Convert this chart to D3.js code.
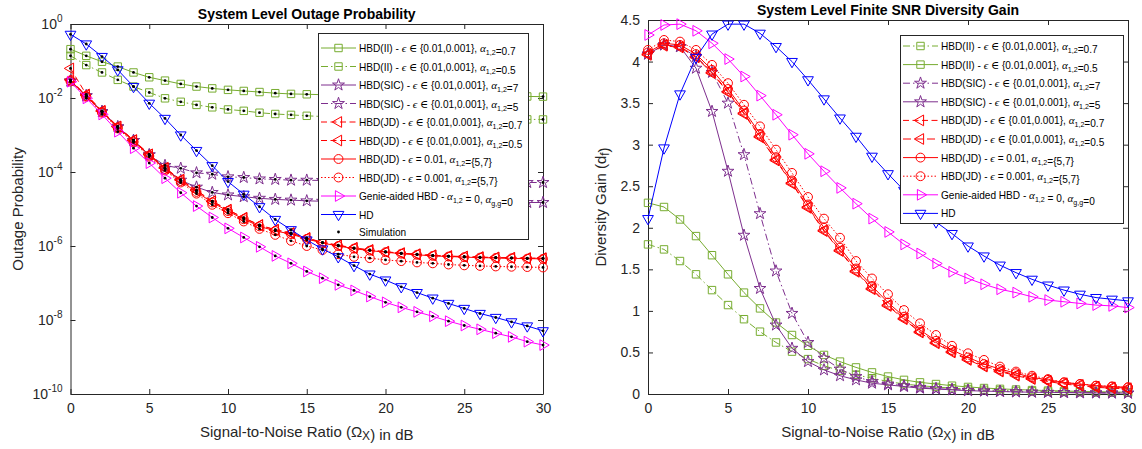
<!DOCTYPE html>
<html>
<head>
<meta charset="utf-8">
<script src="https://cdn.jsdelivr.net/npm/d3@7"></script>
<style>
body { margin: 0; background: #fff; }
svg { display: block; font-family: "Liberation Sans", Arial, sans-serif; }
</style>
</head>
<body>
<script>
// SNR grid in dB (both panels)
var snr = [0,1,2,3,4,5,6,7,8,9,10,11,12,13,14,15,16,17,18,19,20,21,22,23,24,25,26,27,28,29,30];

// ---- left panel: outage probability ----
var outII07 = [0.209,0.138,0.0955,0.0708,0.049,0.0363,0.0295,0.024,0.0204,0.0182,0.0166,0.0155,0.0145,0.0135,0.0129,0.0126,0.0123,0.012,0.0119,0.0117,0.0116,0.0115,0.0114,0.0113,0.0112,0.0112,0.0111,0.011,0.011,0.011,0.0109];
var outII05 = [0.138,0.0776,0.049,0.0309,0.0204,0.0141,9.8e-3,7.9e-3,6.5e-3,5.6e-3,4.9e-3,4.5e-3,4.0e-3,3.7e-3,3.5e-3,3.3e-3,3.16e-3,3.1e-3,3.0e-3,2.95e-3,2.9e-3,2.85e-3,2.82e-3,2.79e-3,2.75e-3,2.72e-3,2.69e-3,2.67e-3,2.65e-3,2.64e-3,2.63e-3];
var outSIC7 = [0.0288,0.0115,4.3e-3,1.66e-3,7.1e-4,2.9e-4,1.26e-4,6.0e-5,3.9e-5,2.8e-5,2.4e-5,2.15e-5,1.95e-5,1.82e-5,1.74e-5,1.66e-5,1.62e-5,1.6e-5,1.58e-5,1.57e-5,1.56e-5,1.55e-5,1.54e-5,1.53e-5,1.53e-5,1.52e-5,1.52e-5,1.51e-5,1.51e-5,1.5e-5,1.5e-5];
var outSIC5 = [0.0288,0.0115,4.3e-3,1.66e-3,7.1e-4,2.9e-4,1.5e-4,1.26e-4,9.5e-5,8.7e-5,7.4e-5,7.1e-5,6.5e-5,6.3e-5,6.0e-5,6.0e-5,5.9e-5,5.8e-5,5.7e-5,5.6e-5,5.55e-5,5.5e-5,5.45e-5,5.4e-5,5.35e-5,5.3e-5,5.3e-5,5.25e-5,5.25e-5,5.2e-5,5.2e-5];
var outJD07 = [0.063,0.0125,4.5e-3,1.7e-3,7.3e-4,3.0e-4,1.3e-4,6.2e-5,3.2e-5,1.62e-5,9.6e-6,5.8e-6,3.7e-6,2.75e-6,2.25e-6,1.65e-6,1.26e-6,1.05e-6,8.9e-7,7.8e-7,7.0e-7,6.4e-7,6.0e-7,5.6e-7,5.35e-7,5.2e-7,5.0e-7,4.9e-7,4.8e-7,4.7e-7,4.7e-7];
var outJD05 = [0.031,0.0118,4.4e-3,1.68e-3,7.2e-4,2.95e-4,1.28e-4,6.1e-5,3.15e-5,1.6e-5,9.4e-6,5.7e-6,3.65e-6,2.72e-6,2.2e-6,1.63e-6,1.24e-6,1.03e-6,8.8e-7,7.7e-7,6.9e-7,6.35e-7,5.9e-7,5.55e-7,5.3e-7,5.1e-7,4.95e-7,4.85e-7,4.75e-7,4.65e-7,4.6e-7];
var outJDe01 = [0.03,0.0112,4.2e-3,1.6e-3,6.8e-4,2.8e-4,1.2e-4,5.7e-5,2.9e-5,1.5e-5,8.8e-6,5.3e-6,3.4e-6,2.55e-6,2.1e-6,1.55e-6,1.2e-6,1.0e-6,8.5e-7,7.5e-7,6.8e-7,6.2e-7,5.8e-7,5.4e-7,5.2e-7,5.0e-7,4.85e-7,4.75e-7,4.65e-7,4.55e-7,4.5e-7];
var outJDe001 = [0.028,0.0108,4.0e-3,1.5e-3,6.3e-4,2.6e-4,1.1e-4,5.2e-5,2.6e-5,1.3e-5,7.7e-6,4.6e-6,2.9e-6,2.0e-6,1.38e-6,1.0e-6,7.8e-7,6.0e-7,5.1e-7,4.7e-7,4.2e-7,3.9e-7,3.6e-7,3.4e-7,3.16e-7,3.0e-7,2.9e-7,2.8e-7,2.75e-7,2.7e-7,2.63e-7];
var outGenie = [0.0275,9.8e-3,3.6e-3,1.23e-3,4.4e-4,1.74e-4,6.8e-5,2.75e-5,1.2e-5,5.9e-6,3.0e-6,1.7e-6,9.5e-7,5.4e-7,3.4e-7,2.05e-7,1.35e-7,8.9e-8,6.3e-8,4.3e-8,3.0e-8,2.2e-8,1.66e-8,1.26e-8,9.3e-9,7.1e-9,5.6e-9,4.4e-9,3.5e-9,2.6e-9,2.1e-9];
var outHD = [0.525,0.288,0.132,0.0575,0.0204,7.2e-3,2.8e-3,1.0e-3,3.8e-4,1.48e-4,5.5e-5,2.5e-5,1.15e-5,5.2e-6,2.75e-6,1.45e-6,8.3e-7,5.1e-7,2.95e-7,1.74e-7,1.2e-7,7.9e-8,5.5e-8,3.9e-8,2.8e-8,2.05e-8,1.5e-8,1.17e-8,8.9e-9,6.9e-9,5.1e-9];

// ---- right panel: finite SNR diversity gain ----
var dgII07 = [1.8,1.74,1.6,1.44,1.25,1.07,0.9,0.75,0.62,0.51,0.42,0.34,0.28,0.23,0.19,0.15,0.12,0.1,0.085,0.07,0.06,0.05,0.043,0.037,0.032,0.028,0.024,0.021,0.019,0.017,0.015];
var dgII05 = [2.3,2.25,2.1,1.9,1.67,1.44,1.22,1.03,0.86,0.71,0.58,0.47,0.39,0.32,0.26,0.21,0.17,0.14,0.12,0.1,0.085,0.072,0.062,0.054,0.047,0.041,0.036,0.032,0.028,0.025,0.022];
var dgSIC7 = [4.09,4.2,4.18,4.06,3.87,3.5,2.88,2.17,1.48,0.97,0.62,0.43,0.3,0.21,0.15,0.12,0.1,0.08,0.065,0.055,0.045,0.038,0.032,0.027,0.023,0.02,0.018,0.016,0.014,0.012,0.011];
var dgSIC5 = [4.09,4.2,4.18,3.92,3.4,2.68,1.91,1.27,0.83,0.55,0.39,0.29,0.22,0.17,0.13,0.11,0.09,0.07,0.06,0.05,0.04,0.035,0.03,0.025,0.022,0.02,0.017,0.015,0.013,0.012,0.01];
var dgJD07 = [4.09,4.2,4.18,4.06,3.87,3.64,3.38,3.1,2.82,2.54,2.25,1.97,1.73,1.48,1.27,1.07,0.91,0.75,0.62,0.51,0.42,0.34,0.28,0.23,0.19,0.16,0.13,0.11,0.09,0.08,0.07];
var dgJD05 = [4.08,4.19,4.17,4.05,3.86,3.63,3.37,3.09,2.81,2.53,2.24,1.96,1.72,1.47,1.26,1.06,0.9,0.74,0.61,0.5,0.41,0.33,0.27,0.22,0.18,0.15,0.12,0.1,0.08,0.07,0.06];
var dgJDe01 = [4.11,4.22,4.2,4.09,3.9,3.67,3.41,3.13,2.85,2.57,2.28,2.0,1.76,1.51,1.3,1.1,0.93,0.77,0.64,0.53,0.44,0.36,0.3,0.25,0.2,0.17,0.14,0.12,0.1,0.09,0.08];
var dgJDe001 = [4.14,4.26,4.24,4.14,3.96,3.74,3.48,3.22,2.94,2.66,2.37,2.11,1.88,1.6,1.39,1.2,1.01,0.85,0.71,0.58,0.49,0.41,0.33,0.27,0.22,0.18,0.14,0.12,0.1,0.09,0.08];
var dgGenie = [4.32,4.44,4.45,4.37,4.22,4.03,3.82,3.59,3.36,3.12,2.89,2.68,2.48,2.29,2.11,1.95,1.8,1.69,1.57,1.47,1.39,1.32,1.26,1.22,1.17,1.13,1.11,1.09,1.07,1.06,1.04];
var dgHD = [2.11,2.96,3.61,4.05,4.33,4.45,4.45,4.34,4.18,4.0,3.78,3.55,3.32,3.1,2.86,2.65,2.45,2.27,2.07,1.93,1.78,1.66,1.55,1.46,1.38,1.31,1.25,1.2,1.16,1.14,1.12];

// tick values
var xTicks = [0,5,10,15,20,25,30];
var yTicksLog = [1,1e-2,1e-4,1e-6,1e-8,1e-10];
var yTicksLin = [0,0.5,1,1.5,2,2.5,3,3.5,4,4.5];

var green = "#77AC30", purple = "#7E2F8E", red = "#FF0000", magenta = "#FF00FF", blue = "#0000FF";
var axisCol = "#262626";
var DASHDOT = "7,3,1.5,3", DASHED = "6,3.5", DOTTED = "1.5,2";
var LEGFONT = 10.1;

// small helpers for legend text pieces
function M(s) { return {t: s, m: 1}; }
function S(s) { return {t: s, s: 1}; }

var leftSeries = [
    {v: outII07, c: green, d: null, mk: "square", lab: ["HBD(II) - ", M("ϵ"), M(" ∈ "), "{0.01,0.001}, ", M("α"), S("1,2"), "=0.7"]},
    {v: outII05, c: green, d: DASHDOT, mk: "square", lab: ["HBD(II) - ", M("ϵ"), M(" ∈ "), "{0.01,0.001}, ", M("α"), S("1,2"), "=0.5"]},
    {v: outSIC7, c: purple, d: null, mk: "star", lab: ["HBD(SIC) - ", M("ϵ"), M(" ∈ "), "{0.01,0.001}, ", M("α"), S("1,2"), "=7"]},
    {v: outSIC5, c: purple, d: DASHDOT, mk: "star", lab: ["HBD(SIC) - ", M("ϵ"), M(" ∈ "), "{0.01,0.001}, ", M("α"), S("1,2"), "=5"]},
    {v: outJD07, c: red, d: DASHED, mk: "left", lab: ["HBD(JD) - ", M("ϵ"), M(" ∈ "), "{0.01,0.001}, ", M("α"), S("1,2"), "=0.7"]},
    {v: outJD05, c: red, d: DASHED, mk: "left", lab: ["HBD(JD) - ", M("ϵ"), M(" ∈ "), "{0.01,0.001}, ", M("α"), S("1,2"), "=0.5"]},
    {v: outJDe01, c: red, d: null, mk: "circle", lab: ["HBD(JD) - ", M("ϵ"), " = 0.01, ", M("α"), S("1,2"), "={5,7}"]},
    {v: outJDe001, c: red, d: DOTTED, mk: "circle", lab: ["HBD(JD) - ", M("ϵ"), " = 0.001, ", M("α"), S("1,2"), "={5,7}"]},
    {v: outGenie, c: magenta, d: null, mk: "right", lab: ["Genie-aided HBD - ", M("α"), S("1,2"), " = 0, ", M("α"), S("g,g"), "=0"]},
    {v: outHD, c: blue, d: null, mk: "down", lab: ["HD"]}
];
var rightSeries = [
    {v: dgII07, c: green, d: DASHDOT, mk: "square", lab: ["HBD(II) - ", M("ϵ"), M(" ∈ "), "{0.01,0.001}, ", M("α"), S("1,2"), "=0.7"]},
    {v: dgII05, c: green, d: null, mk: "square", lab: ["HBD(II) - ", M("ϵ"), M(" ∈ "), "{0.01,0.001}, ", M("α"), S("1,2"), "=0.5"]},
    {v: dgSIC7, c: purple, d: DASHDOT, mk: "star", lab: ["HBD(SIC) - ", M("ϵ"), M(" ∈ "), "{0.01,0.001}, ", M("α"), S("1,2"), "=7"]},
    {v: dgSIC5, c: purple, d: null, mk: "star", lab: ["HBD(SIC) - ", M("ϵ"), M(" ∈ "), "{0.01,0.001}, ", M("α"), S("1,2"), "=5"]},
    {v: dgJD07, c: red, d: DASHED, mk: "left", lab: ["HBD(JD) - ", M("ϵ"), M(" ∈ "), "{0.01,0.001}, ", M("α"), S("1,2"), "=0.7"]},
    {v: dgJD05, c: red, d: "8,4", mk: "left", lab: ["HBD(JD) - ", M("ϵ"), M(" ∈ "), "{0.01,0.001}, ", M("α"), S("1,2"), "=0.5"]},
    {v: dgJDe01, c: red, d: null, mk: "circle", lab: ["HBD(JD) - ", M("ϵ"), " = 0.01, ", M("α"), S("1,2"), "={5,7}"]},
    {v: dgJDe001, c: red, d: DOTTED, mk: "circle", lab: ["HBD(JD) - ", M("ϵ"), " = 0.001, ", M("α"), S("1,2"), "={5,7}"]},
    {v: dgGenie, c: magenta, d: null, mk: "right", lab: ["Genie-aided HBD - ", M("α"), S("1,2"), " = 0, ", M("α"), S("g,g"), "=0"]},
    {v: dgHD, c: blue, d: null, mk: "down", lab: ["HD"]}
];

var svg = d3.select("body").append("svg")
    .attr("width", 1142)
    .attr("height", 449);

var xL = d3.scaleLinear().domain([0, 30]).range([70.5, 543]);
var yL = d3.scaleLog().domain([1e-10, 1]).range([394, 24]);
var xR = d3.scaleLinear().domain([0, 30]).range([648, 1128]);
var yR = d3.scaleLinear().domain([0, 4.5]).range([394, 20]);

function symbolPath(mk) {
    if (mk == "square") return d3.symbol().type(d3.symbolSquare).size(55)();
    if (mk == "star") return d3.symbol().type(d3.symbolStar).size(44)();
    if (mk == "circle") return d3.symbol().type(d3.symbolCircle).size(62)();
    return d3.symbol().type(d3.symbolTriangle).size(50)();
}
function symbolRot(mk) {
    if (mk == "left") return -90;
    if (mk == "right") return 90;
    if (mk == "down") return 180;
    return 0;
}
function drawMarker(g, px, py, mk, col) {
    g.append("path")
        .attr("d", symbolPath(mk))
        .attr("transform", "translate(" + px + "," + py + ") rotate(" + symbolRot(mk) + ")")
        .attr("fill", "none")
        .attr("stroke", col)
        .attr("stroke-width", 1);
}

function addLabel(sel, parts, size) {
    parts.forEach(function (p) {
        if (typeof p == "string") p = {t: p};
        var ts = sel.append("tspan").text(p.t);
        if (p.m) ts.attr("font-family", "'Liberation Serif', 'DejaVu Serif', serif").attr("font-style", "italic").attr("font-size", size + 1);
        if (p.s) {
            ts.attr("font-size", size - 3).attr("dy", 3);
            sel.append("tspan").attr("dy", -3).text("");
        }
    });
}

function frame(x, y, yTicks, logY) {
    var x0 = x.range()[0], x1 = x.range()[1], y0 = y.range()[0], y1 = y.range()[1];
    var g = svg.append("g");
    g.append("g").attr("transform", "translate(0," + y0 + ")")
        .call(d3.axisBottom(x).tickValues(xTicks).tickSizeInner(-5).tickSizeOuter(0).tickPadding(9));
    g.append("g").attr("transform", "translate(0," + y1 + ")")
        .call(d3.axisTop(x).tickValues(xTicks).tickSizeInner(-5).tickSizeOuter(0).tickFormat(""));
    g.append("g").attr("transform", "translate(" + x0 + ",0)")
        .call(d3.axisLeft(y).tickValues(yTicks).tickSizeInner(-5).tickSizeOuter(0).tickPadding(8)
            .tickFormat(logY ? "" : d3.format("")));
    g.append("g").attr("transform", "translate(" + x1 + ",0)")
        .call(d3.axisRight(y).tickValues(yTicks).tickSizeInner(-5).tickSizeOuter(0).tickFormat(""));
    g.selectAll(".domain, .tick line").attr("stroke", axisCol);
    g.selectAll(".tick text").attr("fill", axisCol).attr("font-size", 14)
        .attr("font-family", "'Liberation Sans', Arial, sans-serif");
    if (logY) {
        yTicks.forEach(function (t) {
            var tx = g.append("text").attr("x", x0 - 8).attr("y", y(t) + 5)
                .attr("text-anchor", "end").attr("fill", axisCol).attr("font-size", 14);
            tx.append("tspan").text("10");
            tx.append("tspan").attr("dy", -7).attr("font-size", 10).text(String(Math.round(Math.log10(t))));
        });
    }
    return g;
}

function plotSeries(x, y, series, sim) {
    var g = svg.append("g");
    var line = d3.line()
        .x(function (d, i) { return x(snr[i]); })
        .y(function (d) { return y(d); });
    series.forEach(function (s) {
        g.append("path").datum(s.v)
            .attr("d", line)
            .attr("fill", "none")
            .attr("stroke", s.c)
            .attr("stroke-width", 1)
            .attr("stroke-dasharray", s.d);
        s.v.forEach(function (d, i) { drawMarker(g, x(snr[i]), y(d), s.mk, s.c); });
    });
    if (sim) {
        series.forEach(function (s) {
            s.v.forEach(function (d, i) {
                g.append("circle").attr("cx", x(snr[i])).attr("cy", y(d)).attr("r", 1.4).attr("fill", "#000");
            });
        });
    }
}

function legend(bx, by, bw, bh, series, y0, step, sim) {
    var g = svg.append("g");
    g.append("rect").attr("x", bx + 0.5).attr("y", by + 0.5).attr("width", bw).attr("height", bh)
        .attr("fill", "#fff").attr("stroke", axisCol).attr("stroke-width", 1);
    var lx1 = bx + 3, lx2 = bx + 38, lm = (lx1 + lx2) / 2, tx = bx + 41;
    series.forEach(function (s, i) {
        var yy = y0 + i * step;
        g.append("line").attr("x1", lx1).attr("x2", lx2).attr("y1", yy).attr("y2", yy)
            .attr("stroke", s.c).attr("stroke-width", 1).attr("stroke-dasharray", s.d);
        drawMarker(g, lm, yy, s.mk, s.c);
        var t = g.append("text").attr("x", tx).attr("y", yy + 4).attr("font-size", LEGFONT).attr("fill", "#000");
        addLabel(t, s.lab, LEGFONT);
    });
    if (sim) {
        var yy = y0 + series.length * step - 1;
        g.append("circle").attr("cx", lm).attr("cy", yy).attr("r", 1.4).attr("fill", "#000");
        g.append("text").attr("x", tx).attr("y", yy + 4).attr("font-size", LEGFONT).text("Simulation");
    }
}

function texts(x, y, title, titleY, ylab, ylabX) {
    var cx = (x.range()[0] + x.range()[1]) / 2;
    var cy = (y.range()[0] + y.range()[1]) / 2;
    svg.append("text").attr("x", cx).attr("y", titleY).attr("text-anchor", "middle")
        .attr("font-weight", "bold").attr("font-size", 14).attr("fill", "#000").text(title);
    var xl = svg.append("text").attr("x", cx).attr("y", 437).attr("text-anchor", "middle")
        .attr("font-size", 15).attr("fill", axisCol);
    addLabel(xl, ["Signal-to-Noise Ratio (Ω", S("X"), ") in dB"], 15);
    var yl = svg.append("text").attr("transform", "translate(" + ylabX + "," + cy + ") rotate(-90)")
        .attr("text-anchor", "middle").attr("font-size", 15).attr("fill", axisCol);
    addLabel(yl, ylab, 15);
}

// left panel
frame(xL, yL, yTicksLog, true);
plotSeries(xL, yL, leftSeries, true);
legend(318, 33, 210, 206, leftSeries, 48, 18.5, true);
texts(xL, yL, "System Level Outage Probability", 19, ["Outage Probability"], 23);

// right panel
frame(xR, yR, yTicksLin, false);
plotSeries(xR, yR, rightSeries, false);
legend(900, 35, 223, 188, rightSeries, 46, 18.6, false);
texts(xR, yR, "System Level Finite SNR Diversity Gain", 15, ["Diversity Gain (d", S("f"), ")"], 606);
</script>
</body>
</html>
